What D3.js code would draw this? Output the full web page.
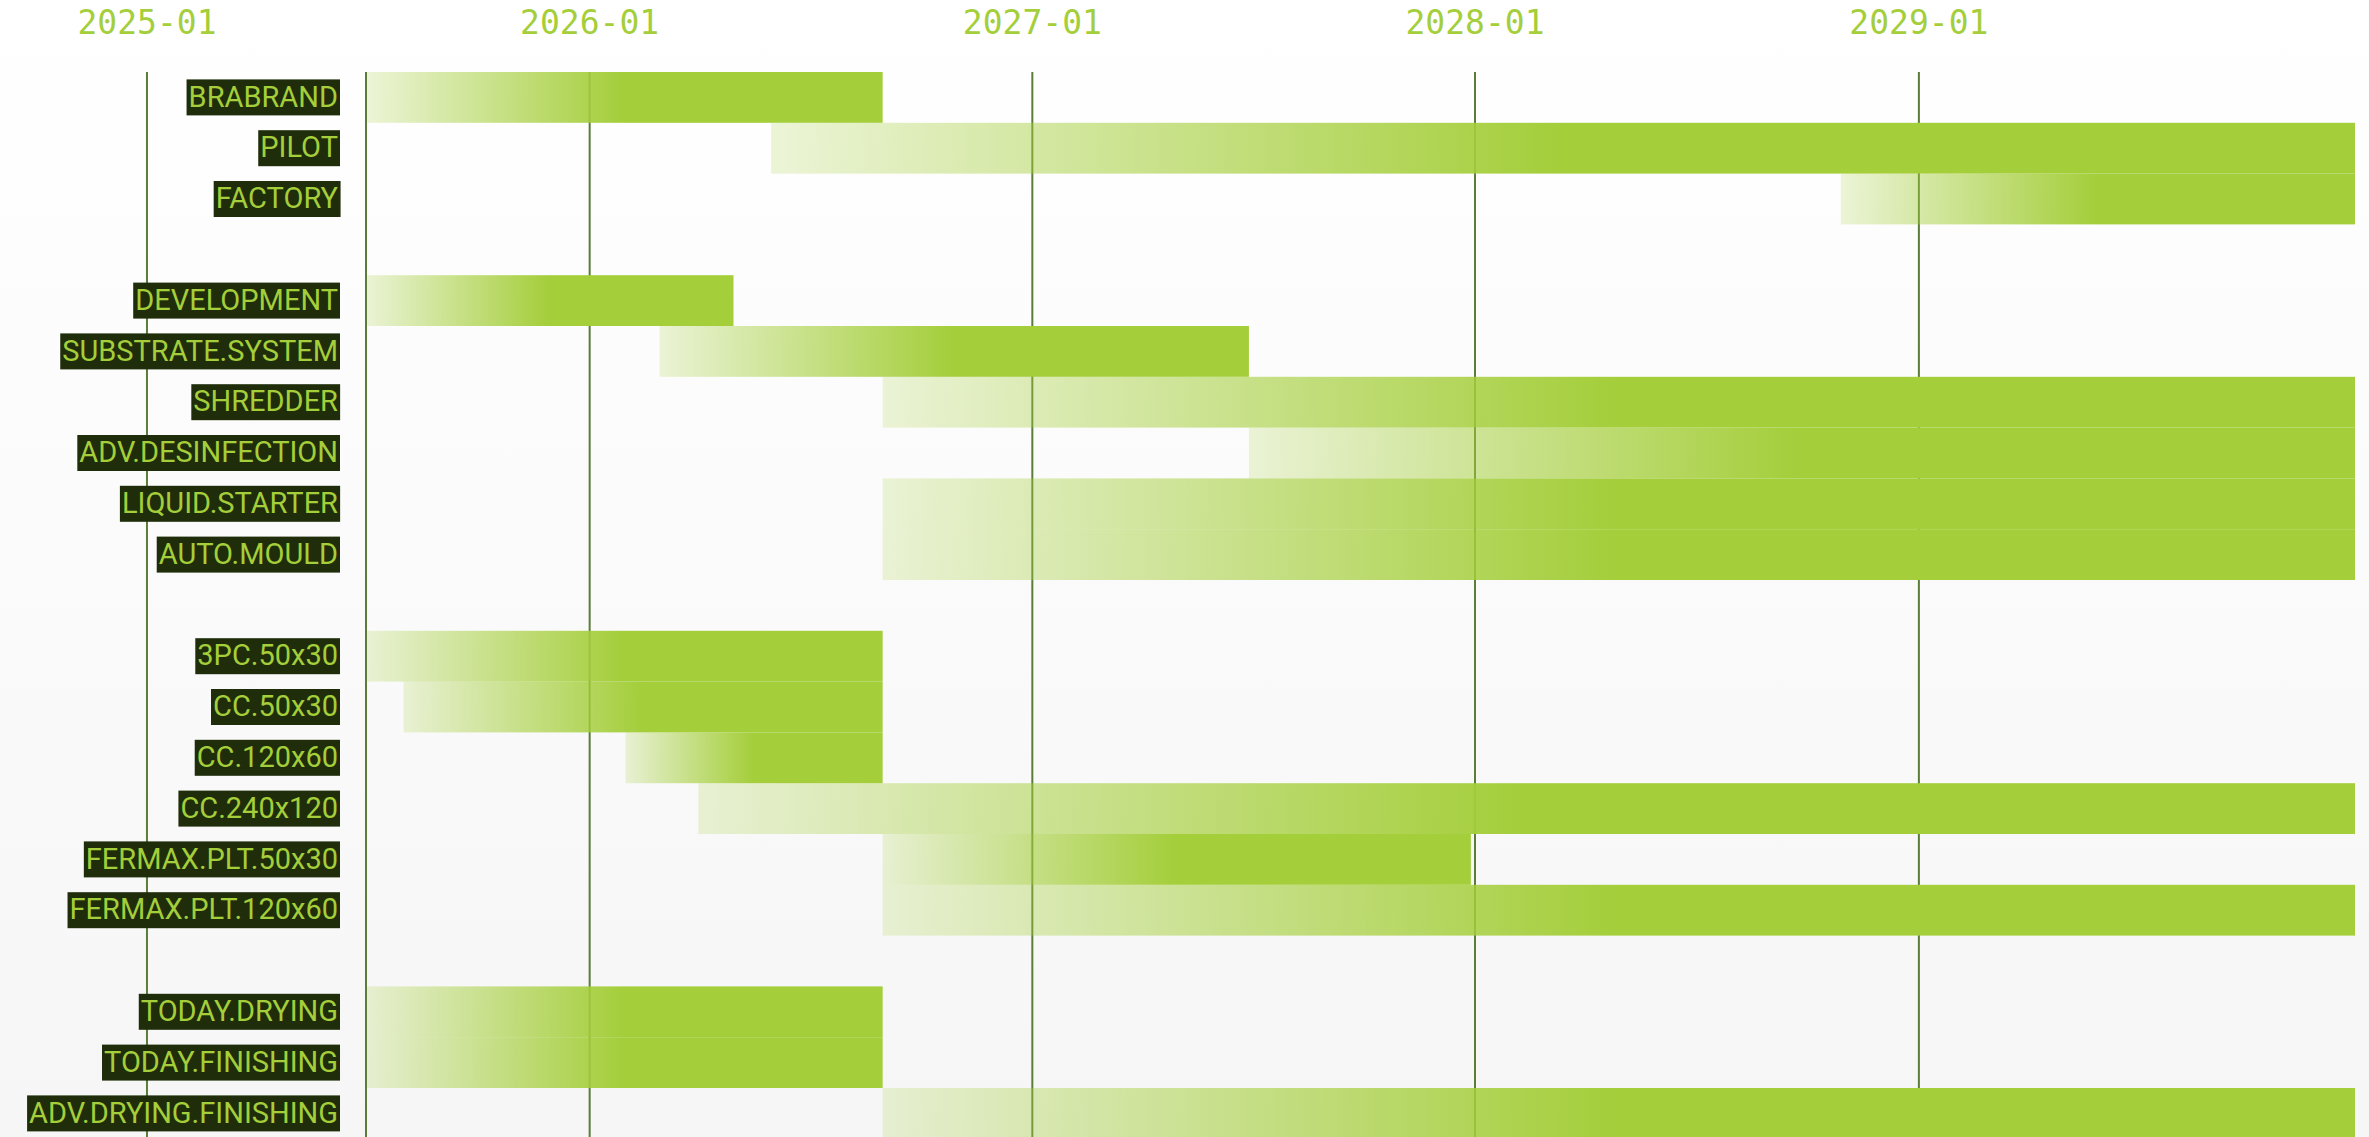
<!DOCTYPE html>
<html>
<head>
<meta charset="utf-8">
<script src="https://cdn.jsdelivr.net/npm/d3@7"></script>
<style>
  html, body { margin: 0; padding: 0; overflow: hidden; }
  svg { display: block; }
  .ticks text { font-family: 'DejaVu Sans Mono', monospace; font-size: 33px; fill: #a4ce3a; }
  .rows text { font-family: Roboto, sans-serif; font-size: 29px; fill: #a4ce3a; }
</style>
</head>
<body>
<svg id="chart"></svg>
<script>
const W = 2369
const H = 1137

// rows of the plan, '' marks an empty spacer row
const names = [
  'BRABRAND', 'PILOT', 'FACTORY', '',
  'DEVELOPMENT', 'SUBSTRATE.SYSTEM', 'SHREDDER', 'ADV.DESINFECTION', 'LIQUID.STARTER', 'AUTO.MOULD', '',
  '3PC.50x30', 'CC.50x30', 'CC.120x60', 'CC.240x120', 'FERMAX.PLT.50x30', 'FERMAX.PLT.120x60', '',
  'TODAY.DRYING', 'TODAY.FINISHING', 'ADV.DRYING.FINISHING'
]
const starts = [
  '2025-07-01', '2026-05-31', '2028-10-29', null,
  '2025-07-01', '2026-02-28', '2026-08-31', '2027-06-29', '2026-08-31', '2026-08-31', null,
  '2025-07-01', '2025-08-01', '2026-01-31', '2026-04-01', '2026-08-31', '2026-08-31', null,
  '2025-07-01', '2025-07-01', '2026-08-31'
]
const ends = [
  '2026-08-31', '2029-12-27', '2029-12-27', null,
  '2026-04-30', '2027-06-29', '2029-12-27', '2029-12-27', '2029-12-27', '2029-12-27', null,
  '2026-08-31', '2026-08-31', '2026-08-31', '2029-12-27', '2027-12-29', '2029-12-27', null,
  '2026-08-31', '2026-08-31', '2029-12-27'
]
const yearTicks = ['2025-01-01', '2026-01-01', '2027-01-01', '2028-01-01', '2029-01-01']
const range = ['2025-07-01', '2029-12-27']

const parseDate = d3.utcParse('%Y-%m-%d')
const margin = { top: 72, left: 366, right: 14 }
const rowH = 50.8

const rows = names.map((name, i) => ({
  i,
  name,
  start: starts[i] && parseDate(starts[i]),
  end: ends[i] && parseDate(ends[i])
}))

const svg = d3.select('#chart').attr('width', W).attr('height', H)

const defs = svg.append('defs')

const bg = defs.append('linearGradient')
  .attr('id', 'bg').attr('x1', 0).attr('y1', 0).attr('x2', 0).attr('y2', 1)
bg.append('stop').attr('offset', '0%').attr('stop-color', '#ffffff')
bg.append('stop').attr('offset', '100%').attr('stop-color', '#f6f6f6')

const grad = defs.append('linearGradient')
  .attr('id', 'barGrad').attr('x1', 0).attr('y1', 0).attr('x2', 1).attr('y2', 0)
grad.append('stop').attr('offset', '0%').attr('stop-color', '#a4ce3a').attr('stop-opacity', 0.2)
grad.append('stop').attr('offset', '50%').attr('stop-color', '#a4ce3a').attr('stop-opacity', 1)
grad.append('stop').attr('offset', '100%').attr('stop-color', '#a4ce3a').attr('stop-opacity', 1)

svg.append('rect').attr('width', W).attr('height', H).attr('fill', 'url(#bg)')

const x = d3.scaleUtc()
  .domain(range.map(parseDate))
  .range([margin.left, W - margin.right])

const y = d3.scaleBand()
  .domain(rows.map(d => d.i))
  .range([margin.top, margin.top + rowH * rows.length])
  .padding(0)

// year labels on top
const yearAxis = svg.append('g')
  .attr('class', 'ticks')
  .attr('transform', 'translate(0,34)')
  .call(d3.axisTop(x)
    .tickValues(yearTicks.map(parseDate))
    .tickFormat(d3.utcFormat('%Y-%m'))
    .tickSize(0)
    .tickPadding(0))
yearAxis.select('.domain').remove()
yearAxis.selectAll('text').attr('font-family', null).attr('font-size', null)

// year grid lines
const grid = svg.append('g')
  .attr('transform', `translate(0,${margin.top})`)
  .call(d3.axisBottom(x)
    .tickValues(yearTicks.map(parseDate))
    .tickSize(H - margin.top)
    .tickFormat(''))
grid.select('.domain').remove()
grid.selectAll('line').attr('stroke', '#5b7d3a').attr('stroke-width', 2)

// bars
svg.append('g')
  .selectAll('rect')
  .data(rows.filter(d => d.start))
  .join('rect')
  .attr('x', d => x(d.start))
  .attr('y', d => y(d.i))
  .attr('width', d => x(d.end) - x(d.start))
  .attr('height', y.bandwidth())
  .attr('fill', 'url(#barGrad)')

// row labels, left axis doubles as the chart edge
const rowAxis = svg.append('g')
  .attr('class', 'rows')
  .attr('transform', `translate(${x(parseDate(range[0]))},0)`)
  .call(d3.axisLeft(y)
    .tickFormat(i => names[i])
    .tickSize(0)
    .tickPadding(28)
    .tickSizeOuter(0))
rowAxis.select('.domain')
  .attr('stroke', '#5b7d3a').attr('stroke-width', 2)
  .attr('d', `M0,${margin.top}V${H}`)
rowAxis.selectAll('text').attr('font-family', null).attr('font-size', null)

rowAxis.selectAll('.tick').each(function (i) {
  const g = d3.select(this)
  const t = g.select('text')
  if (!names[i]) return
  const bb = t.node().getBBox()
  g.insert('rect', 'text')
    .attr('x', bb.x - 2)
    .attr('y', -18)
    .attr('width', bb.width + 4)
    .attr('height', 36)
    .attr('fill', '#1f2d0a')
})
</script>
</body>
</html>
